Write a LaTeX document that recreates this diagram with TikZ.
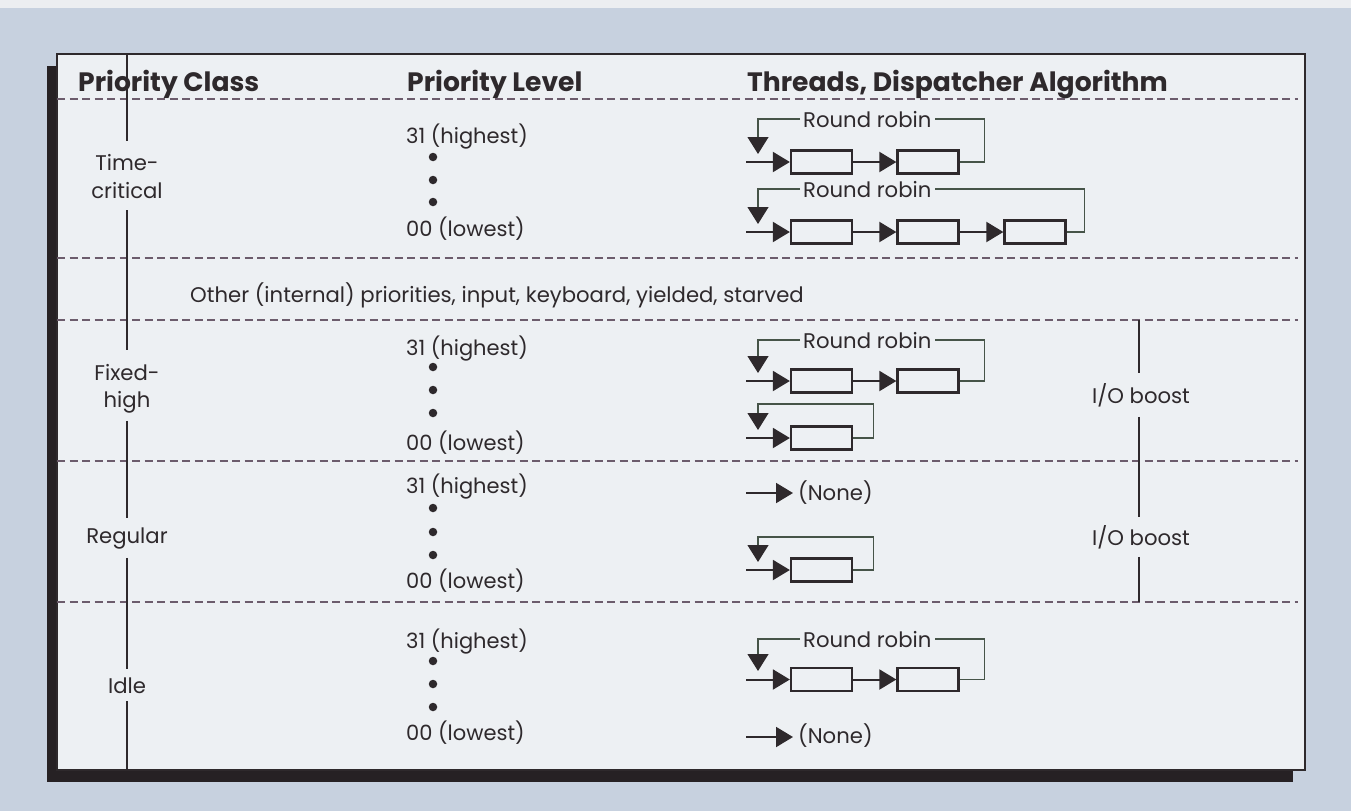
\documentclass[tikz,border=0pt]{standalone}
\usepackage{fontspec}
\setmainfont{Poppins}
\usetikzlibrary{arrows.meta}

\definecolor{pagebg}{RGB}{199,209,223}
\definecolor{pagetop}{RGB}{236,238,241}
\definecolor{panel}{RGB}{237,240,243}
\definecolor{ink}{RGB}{46,41,44}
\definecolor{shadowc}{RGB}{38,33,36}
\definecolor{dashcol}{RGB}{108,92,108}
\definecolor{loopcol}{RGB}{70,84,72}

\newcommand{\bodyfont}{\fontsize{21.2}{25}\selectfont}
\newcommand{\levelfont}{\fontsize{21}{25}\selectfont}
\newcommand{\headfont}{\fontsize{26.6}{31}\selectfont\bfseries}

\tikzset{
  lbl/.style={font=\bodyfont, text=ink, inner sep=0pt},
  lvl/.style={font=\levelfont, text=ink, inner sep=0pt, anchor=base west},
  hdr/.style={font=\headfont, text=ink, inner sep=0pt, anchor=base west},
  rr/.style={font=\bodyfont, text=ink, inner sep=3pt, anchor=base west},
  qbox/.style={draw=ink, line width=2.3pt, fill=panel, minimum width=61pt,
    minimum height=23pt, inner sep=0pt},
  feed/.style={draw=ink, line width=2pt, -{Triangle[length=17pt,width=20pt]}},
  loopline/.style={draw=loopcol, line width=1.2pt},
  drop/.style={loopline, -{Triangle[length=17pt,width=21pt,color=ink]}},
  sep/.style={draw=dashcol, line width=1.6pt, dash pattern=on 8pt off 4.5pt},
  rail/.style={draw=ink, line width=2pt},
  dot/.style={circle, fill=ink, minimum size=8.5pt, inner sep=0pt},
}

\begin{document}
\begin{tikzpicture}[x=1pt, y=-1pt]
  \useasboundingbox (0,0) rectangle (1351,811);

  % page, drop shadow and table panel
  \fill[pagebg] (0,0) rectangle (1351,811);
  \fill[pagetop] (0,0) rectangle (1351,8);
  \fill[shadowc] (47,66) rectangle (1293,782);
  \draw[ink, line width=2pt, fill=panel] (57,54) rectangle (1305,770);

  % column headings
  \node[hdr] (hclass) at (78,91) {Priority Class};
  \node[hdr] (hlevel) at (407,91) {Priority Level};
  \node[hdr] (hthread) at (747,91) {Threads, Dispatcher Algorithm};

  % row separators
  \foreach \yy in {99,258,320,461,602}
    \draw[sep] (57,\yy) -- (1298,\yy);

  % priority classes on the left rail
  \coordinate (railtop) at (127,54);
  \coordinate (railbot) at (127,770);
  \node[lbl, anchor=base, inner ysep=13pt] (tc1) at (127,170) {Time-};
  \node[lbl, anchor=base, inner ysep=12pt] (tc2) at (127,198) {critical};
  \node[lbl, anchor=base, inner ysep=14pt] (fh1) at (127,380) {Fixed-};
  \node[lbl, anchor=base, inner ysep=8pt] (fh2) at (127,407) {high};
  \node[lbl, anchor=base, inner ysep=9pt] (rg) at (127,543) {Regular};
  \node[lbl, anchor=base, inner ysep=8pt] (id) at (127,693) {Idle};
  \draw[rail] (railtop) -- (tc1.north);
  \draw[rail] (tc2.south) -- (fh1.north);
  \draw[rail] (fh2.south) -- (rg.north);
  \draw[rail] (rg.south) -- (id.north);
  \draw[rail] (id.south) -- (railbot);

  % priority levels
  \node[lvl] (tchi) at (406,143) {31 (highest)};
  \node[lvl] (tclo) at (406,236) {00 (lowest)};
  \node[lvl] (fhhi) at (406,355) {31 (highest)};
  \node[lvl] (fhlo) at (406,450) {00 (lowest)};
  \node[lvl] (rghi) at (406,493) {31 (highest)};
  \node[lvl] (rglo) at (406,588) {00 (lowest)};
  \node[lvl] (idhi) at (406,648) {31 (highest)};
  \node[lvl] (idlo) at (406,740) {00 (lowest)};
  \foreach \yy/\nm in {157/t1,180/t2,202/t3,367/f1,390/f2,413/f3,
                       508/r1,532/r2,555/r3,661/i1,684/i2,707/i3}
    \node[dot] (dot\nm) at (433,\yy) {};

  \node[lbl, anchor=base west] (other) at (190,302)
    {Other (internal) priorities, input, keyboard, yielded, starved};

  % time-critical, first queue
  \coordinate (qa) at (746,162);
  \coordinate (da) at (758,154);
  \node[qbox] (a1) at (821.5,162) {};
  \node[qbox] (a2) at (928,162) {};
  \node[rr] (ra) at (800,127) {Round robin};
  \draw[feed] (qa) -- (a1);
  \draw[feed] (a1) -- (a2);
  \draw[loopline] (a2.east) -- ++(25,0) |- (ra.east);
  \draw[drop] (ra.west) -| (da);

  % time-critical, second queue
  \coordinate (qb) at (746,232);
  \coordinate (db) at (758,224);
  \node[qbox] (b1) at (821.5,232) {};
  \node[qbox] (b2) at (928,232) {};
  \node[qbox] (b3) at (1035,232) {};
  \node[rr] (rb) at (800,197) {Round robin};
  \draw[feed] (qb) -- (b1);
  \draw[feed] (b1) -- (b2);
  \draw[feed] (b2) -- (b3);
  \draw[loopline] (b3.east) -- ++(18,0) |- (rb.east);
  \draw[drop] (rb.west) -| (db);

  % fixed-high, first queue
  \coordinate (qc) at (746,381);
  \coordinate (dc) at (758,373);
  \node[qbox] (c1) at (821.5,381) {};
  \node[qbox] (c2) at (928,381) {};
  \node[rr] (rc) at (800,348) {Round robin};
  \draw[feed] (qc) -- (c1);
  \draw[feed] (c1) -- (c2);
  \draw[loopline] (c2.east) -- ++(25,0) |- (rc.east);
  \draw[drop] (rc.west) -| (dc);

  % fixed-high, second queue
  \coordinate (qd) at (746,438);
  \coordinate (td) at (758,404);
  \coordinate (dd) at (758,430);
  \node[qbox] (d1) at (821.5,438) {};
  \draw[feed] (qd) -- (d1);
  \draw[drop] (d1.east) -- ++(20,0) |- (td) -- (dd);

  % regular, first level: empty
  \coordinate (qe) at (746,493);
  \node[lbl, anchor=base west, inner xsep=5pt] (ne) at (793,500) {(None)};
  \draw[feed] (qe) -- (qe -| ne.west);

  % regular, second queue
  \coordinate (qf) at (746,570);
  \coordinate (tf) at (758,537);
  \coordinate (df) at (758,562);
  \node[qbox] (f1) at (821.5,570) {};
  \draw[feed] (qf) -- (f1);
  \draw[drop] (f1.east) -- ++(20,0) |- (tf) -- (df);

  % idle, first queue
  \coordinate (qg) at (746,679.5);
  \coordinate (dg) at (758,671);
  \node[qbox] (g1) at (821.5,679.5) {};
  \node[qbox] (g2) at (928,679.5) {};
  \node[rr] (rg2) at (800,647) {Round robin};
  \draw[feed] (qg) -- (g1);
  \draw[feed] (g1) -- (g2);
  \draw[loopline] (g2.east) -- ++(25,0) |- (rg2.east);
  \draw[drop] (rg2.west) -| (dg);

  % idle, last level: empty
  \coordinate (qh) at (746,737);
  \node[lbl, anchor=base west, inner xsep=5pt] (nh) at (793,743) {(None)};
  \draw[feed] (qh) -- (qh -| nh.west);

  % I/O boost ranges
  \coordinate (iotop) at (1139,320);
  \coordinate (iobot) at (1139,602);
  \node[lbl, anchor=base, inner ysep=10pt] (io1) at (1141,403) {I/O boost};
  \node[lbl, anchor=base, inner ysep=8pt] (io2) at (1141,545) {I/O boost};
  \draw[rail] (iotop) -- (iotop |- io1.north);
  \draw[rail] (iotop |- io1.south) -- (iotop |- io2.north);
  \draw[rail] (iotop |- io2.south) -- (iobot);
\end{tikzpicture}
\end{document}
